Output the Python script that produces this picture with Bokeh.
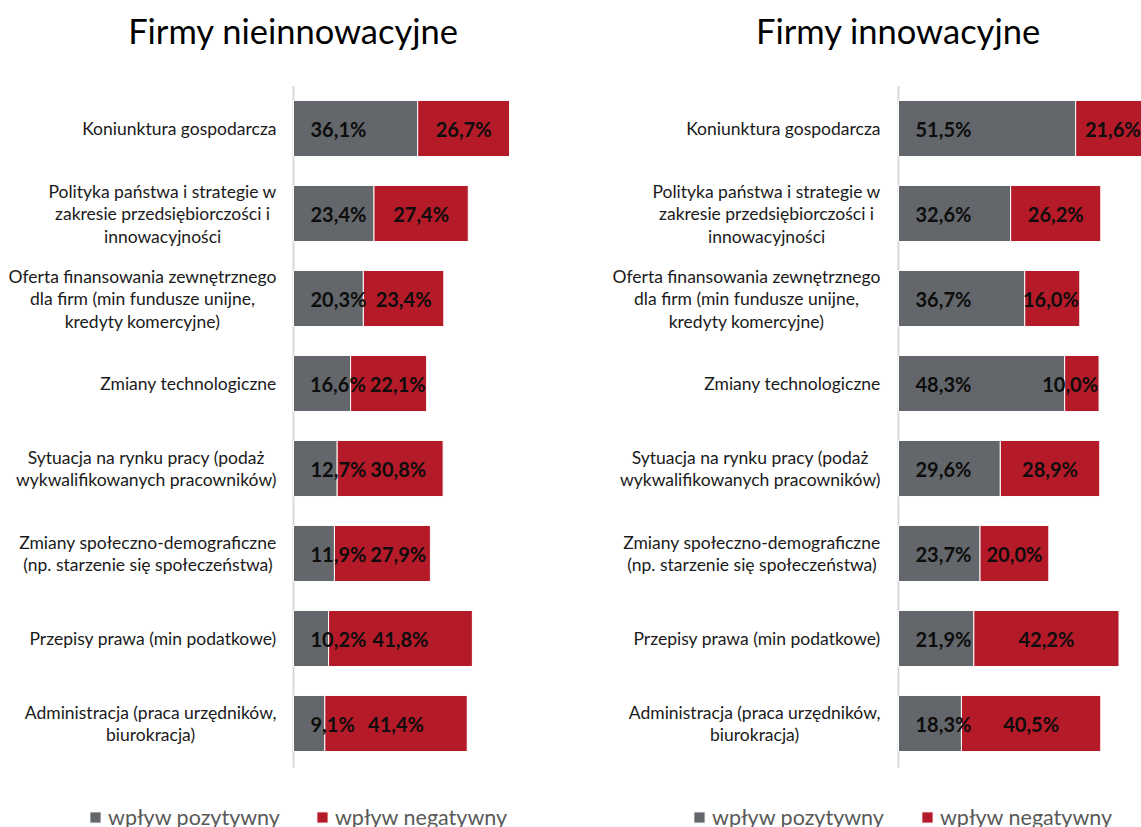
from bokeh.plotting import figure
from bokeh.layouts import row
from bokeh.models import Range1d, ColumnDataSource, Legend, LegendItem
from bokeh.core.properties import value
from bokeh.embed import file_html
from bokeh.resources import INLINE
import glob

# ---------------- data ----------------
categories = [
    "Koniunktura gospodarcza",
    "Polityka państwa i strategie w\nzakresie przedsiębiorczości i\ninnowacyjności",
    "Oferta finansowania zewnętrznego\ndla firm (min fundusze unijne,\nkredyty komercyjne)",
    "Zmiany technologiczne",
    "Sytuacja na rynku pracy (podaż\nwykwalifikowanych pracowników)",
    "Zmiany społeczno-demograficzne\n(np. starzenie się społeczeństwa)",
    "Przepisy prawa (min podatkowe)",
    "Administracja (praca urzędników,\nbiurokracja)",
]
non_pos = [36.1, 23.4, 20.3, 16.6, 12.7, 11.9, 10.2, 9.1]
non_neg = [26.7, 27.4, 23.4, 22.1, 30.8, 27.9, 41.8, 41.4]
inn_pos = [51.5, 32.6, 36.7, 48.3, 29.6, 23.7, 21.9, 18.3]
inn_neg = [21.6, 26.2, 16.0, 10.0, 28.9, 20.0, 42.2, 40.5]
titles = ["Firmy nieinnowacyjne", "Firmy innowacyjne"]
series_names = ["wpływ pozytywny", "wpływ negatywny"]

# ---------------- style / layout ----------------
FONT = "Lato"
GRAY = "#63666A"
RED = "#B51A29"
SCALE = 3.44      # px per percent
ROW_PX = 85       # px per category row
ROW0 = 128        # px from top of figure to first row centre
H = 827
LABEL_SIZE = 17.5
LINE_H = 22.5
VAL_SIZE = 20


def _font_file(name):
    for base in ("/usr/share/fonts", "/usr/local/share/fonts", "/root/.fonts"):
        files = glob.glob(base + "/**/" + name, recursive=True)
        if files:
            return files[0]
    return None


def measure(s, size, bold=False):
    try:
        from PIL import ImageFont
        f = _font_file("Lato-Bold.ttf" if bold else "Lato-Regular.ttf")
        if f is None:
            return None
        return ImageFont.truetype(f, size).getlength(s)
    except Exception:
        return None


def fmt(v):
    return ("%.1f%%" % v).replace(".", ",")


def label_offsets(pos, neg):
    """Pixel offsets (from the axis) of the left edges of the two value labels:
    the positive label sits near the axis, the negative one is centred in its
    segment and nudged so the two never overlap and stay inside the bar."""
    gx, rx = [], []
    gap = 4
    for a, b in zip(pos, neg):
        gw = measure(fmt(a), VAL_SIZE, True) or 0.62 * VAL_SIZE * len(fmt(a))
        rw = measure(fmt(b), VAL_SIZE, True) or 0.62 * VAL_SIZE * len(fmt(b))
        g_left = 17.0
        r_left = (a + b / 2) * SCALE - rw / 2
        if r_left < g_left + gw + gap:
            r_left = g_left + gw + gap
        end = (a + b) * SCALE - 1
        if r_left + rw > end:
            r_left = end - rw
        if r_left < g_left + gw + gap:
            g_left = max(8.0, r_left - gap - gw)
        gx.append(g_left)
        rx.append(r_left)
    return gx, rx


def make_panel(title, pos, neg, width, axis_px, label_gap, legend_x, legend_sp):
    p = figure(width=width, height=H, output_backend="svg", toolbar_location=None,
               x_range=Range1d(-axis_px / SCALE, (width - axis_px) / SCALE),
               y_range=Range1d((H - ROW0) / ROW_PX, -ROW0 / ROW_PX),
               x_axis_location=None, y_axis_location=None, min_border=0)
    p.grid.visible = False
    p.outline_line_color = None
    p.background_fill_color = "white"

    idx = list(range(len(categories)))
    gx, rx = label_offsets(pos, neg)
    src = ColumnDataSource(dict(
        y=idx, pos=pos, neg=neg,
        tot=[a + b for a, b in zip(pos, neg)],
        pos_lbl=[fmt(v) for v in pos],
        neg_lbl=[fmt(v) for v in neg],
        gx=gx, rx=rx,
    ))

    # vertical axis line
    p.segment(x0=[0], y0=[-0.5], x1=[0], y1=[len(categories) - 0.48],
              line_color="#D9D9D9", line_width=2)

    r_pos = p.hbar(y="y", left=0, right="pos", height=0.66, source=src,
                   fill_color=GRAY, line_color="white", line_width=1)
    r_neg = p.hbar(y="y", left="pos", right="tot", height=0.66, source=src,
                   fill_color=RED, line_color="white", line_width=1)

    p.text(x=0, y="y", text="pos_lbl", source=src, x_offset="gx",
           text_align="left", text_baseline="middle", text_font=value(FONT),
           text_font_style="bold", text_font_size="%dpx" % VAL_SIZE,
           text_color="#0D0D0D")
    p.text(x=0, y="y", text="neg_lbl", source=src, x_offset="rx",
           text_align="left", text_baseline="middle", text_font=value(FONT),
           text_font_style="bold", text_font_size="%dpx" % VAL_SIZE,
           text_color="#0D0D0D")

    # category labels (lines centred within a right-aligned block)
    lx, ly, lt, lxo, lyo = [], [], [], [], []
    widths_ok = True
    for i, cat in enumerate(categories):
        lines = cat.split("\n")
        ws = [measure(l, LABEL_SIZE) for l in lines]
        if any(w is None for w in ws):
            widths_ok = False
        n = len(lines)
        for k, l in enumerate(lines):
            lx.append(0)
            ly.append(i)
            lt.append(l)
            lyo.append((k - (n - 1) / 2) * LINE_H)
            if widths_ok:
                lxo.append(-label_gap - max(ws) / 2)
            else:
                lxo.append(-label_gap)
    lsrc = ColumnDataSource(dict(x=lx, y=ly, t=lt, xo=lxo, yo=lyo))
    p.text(x="x", y="y", text="t", source=lsrc, x_offset="xo", y_offset="yo",
           text_align="center" if widths_ok else "right", text_baseline="middle",
           text_font=value(FONT), text_font_size="%spx" % LABEL_SIZE,
           text_color="#1A1A1A")

    # title
    p.text(x=[0], y=[-(ROW0 - 30) / ROW_PX], text=[title], text_align="center",
           text_baseline="middle", text_font=value(FONT), text_font_size="34.5px",
           text_color="#000000")

    legend = Legend(items=[LegendItem(label=series_names[0], renderers=[r_pos]),
                           LegendItem(label=series_names[1], renderers=[r_neg])],
                    orientation="horizontal", location=(legend_x, -3),
                    border_line_color=None, background_fill_alpha=0,
                    padding=0, margin=0, spacing=legend_sp, label_standoff=6,
                    glyph_width=14, glyph_height=14, label_height=20,
                    label_text_font=FONT, label_text_font_size="21.5px",
                    label_text_color="#595959")
    p.add_layout(legend)
    return p


p1 = make_panel(titles[0], non_pos, non_neg, 600, 293, 17, 88, 35)
p2 = make_panel(titles[1], inn_pos, inn_neg, 541, 298, 18, 92, 36)
layout = row(p1, p2, spacing=0)

open("out.html", "w").write(file_html(layout, INLINE))
